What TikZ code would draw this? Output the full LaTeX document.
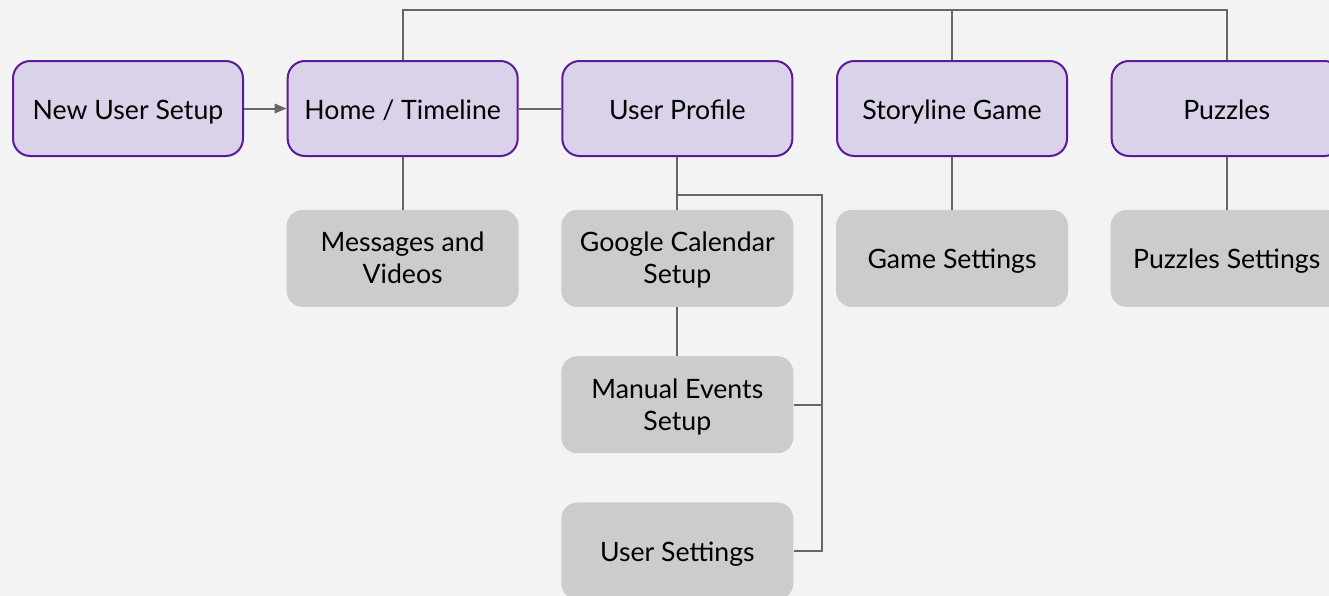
\documentclass[tikz,border=0pt]{standalone}
\usepackage{fontspec}
\setmainfont{Lato}
\usetikzlibrary{positioning,arrows.meta}
\definecolor{bgcol}{HTML}{F3F3F3}
\definecolor{lavfill}{HTML}{D9D2E9}
\definecolor{lavline}{HTML}{5B1A99}
\definecolor{boxgray}{HTML}{CCCCCC}
\definecolor{linegray}{HTML}{666666}

\begin{document}
\begin{tikzpicture}[
    x=0.75pt, y=-0.75pt,
    node distance=39.5pt and 32pt,
    main/.style={draw=lavline, line width=1.5pt, fill=lavfill, rounded corners=13pt, align=center,
      minimum width=172.5pt, minimum height=71.25pt, font=\fontsize{20}{24}\selectfont, oneline},
    sub/.style={fill=boxgray, rounded corners=12pt, align=center, inner sep=0pt,
      minimum width=174pt, minimum height=72.75pt, font=\fontsize{20}{24}\selectfont, oneline},
    oneline/.style={text height=18pt, text depth=2.2pt},
    twoline/.style={text height=38.8pt, text depth=0.6pt},
    link/.style={draw=linegray, line width=1.5pt}
  ]
  \fill[bgcol] (0,0) rectangle (1329,596);
  \useasboundingbox (0,0) rectangle (1329,596);

  % top row
  \node[main] (newuser) at (128,108.5) {New User Setup};
  \node[main, right=of newuser] (home) {Home / Timeline};
  \node[main, right=of home] (profile) {User Profile};
  \node[main, right=of profile] (story) {Storyline Game};
  \node[main, right=of story] (puzzles) {Puzzles};

  % second row
  \node[sub, twoline, below=of home] (msgs) {Messages and\\Videos};
  \node[sub, twoline, below=of profile] (gcal) {Google Calendar\\Setup};
  \node[sub, below=of story] (gameset) {Game Settings};
  \node[sub, below=of puzzles] (puzset) {Puzzles Settings};
  \node[sub, twoline, below=36.55pt of gcal] (manual) {Manual Events\\Setup};
  \node[sub, below=36.55pt of manual] (userset) {User Settings};

  \draw[link, -{Triangle[length=9pt, width=7pt]}] (newuser) -- (home);
  \draw[link] (home) -- (profile);
  \draw[link] (home.north) |- ([yshift=37.5pt]puzzles.north) -- (puzzles.north);
  \draw[link] (story.north) -- ++(0,-50);

  \draw[link] (home) -- (msgs);
  \draw[link] (profile) -- (gcal);
  \draw[link] (story) -- (gameset);
  \draw[link] (puzzles) -- (puzset);
  \draw[link] (gcal) -- (manual);

  \coordinate (branch) at ([yshift=-28.5pt]profile.south);
  \draw[link] (branch) -| ([xshift=21pt]userset.east) -- (userset.east);
  \draw[link] (manual.east) -- ([xshift=21pt]manual.east);
\end{tikzpicture}
\end{document}
